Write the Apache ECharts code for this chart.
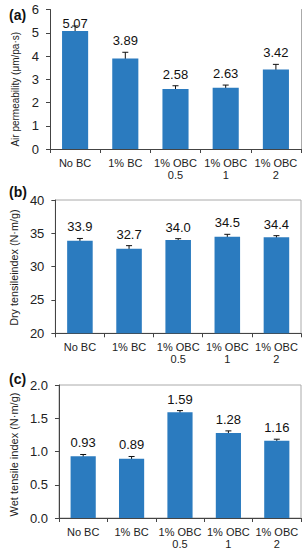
<!DOCTYPE html>
<html><head><meta charset="utf-8">
<script src="https://cdn.jsdelivr.net/npm/echarts@6/dist/echarts.min.js"></script>
<style>html,body{margin:0;padding:0;background:#fff}#c{width:306px;height:550px}</style>
</head><body><div id="c"></div>
<script>
const categories = ['No BC', '1% BC', '1% OBC\n0.5', '1% OBC\n1', '1% OBC\n2'];
const airPerm = [5.07, 3.89, 2.58, 2.63, 3.42];
const airPermErr = [0.22, 0.27, 0.14, 0.12, 0.22];
const dryTensile = [33.9, 32.7, 34.0, 34.5, 34.4];
const dryTensileErr = [0.33, 0.45, 0.2, 0.35, 0.25];
const wetTensile = [0.93, 0.89, 1.59, 1.28, 1.16];
const wetTensileErr = [0.025, 0.035, 0.025, 0.03, 0.025];
const panelLabels = ['(a)', '(b)', '(c)'];
const yTitles = ['Air permeability (μm/pa·s)', 'Dry tensileindex (N·m/g)', 'Wet tensile index (N·m/g)'];

const FONT = 'Liberation Sans, Arial, sans-serif';
const BAR = '#2b7bbf';
const panels = [
  {vals: airPerm, errs: airPermErr, min: 0, max: 6, interval: 1, dec: 2, tickDec: 0, top: 9.5, height: 139.5, show: false, nameSize: 10, namePad: [0, 20, 0, 0]},
  {vals: dryTensile, errs: dryTensileErr, min: 20, max: 40, interval: 5, dec: 1, tickDec: 0, top: 200, height: 133.3, show: true, nameSize: 10.8, namePad: [0, 2, 0, 0]},
  {vals: wetTensile, errs: wetTensileErr, min: 0, max: 2, interval: 0.5, dec: 2, tickDec: 1, top: 385, height: 133.3, show: true, nameSize: 11, namePad: [0, 6, 0, 0]}
];

const grid = [], xAxis = [], yAxis = [], series = [], title = [];
const labelTops = [3, 180, 367];
panels.forEach((p, k) => {
  grid.push({left: 50, width: 251, top: p.top, height: p.height, show: p.show, borderColor: '#aaa', borderWidth: 1});
  title.push({text: panelLabels[k], left: 4, top: labelTops[k], textStyle: {fontFamily: FONT, fontSize: 14, fontWeight: 'bold', color: '#111'}});
  xAxis.push({type: 'category', gridIndex: k, data: categories,
    axisLine: {lineStyle: {color: '#444'}},
    axisTick: {show: true, length: 4, lineStyle: {color: '#444'}},
    axisLabel: {interval: 0, color: '#222', fontFamily: FONT, fontSize: 11, lineHeight: 12, margin: 8}
  });
  yAxis.push({type: 'value', gridIndex: k, min: p.min, max: p.max, interval: p.interval,
    name: yTitles[k], nameLocation: 'middle', nameGap: 30,
    nameTextStyle: {fontFamily: FONT, fontSize: p.nameSize, color: '#222', padding: p.namePad},
    axisLine: {show: true, lineStyle: {color: '#444'}},
    axisTick: {show: true, length: 4, lineStyle: {color: '#444'}},
    splitLine: {show: false},
    axisLabel: {color: '#222', fontFamily: FONT, fontSize: 13, margin: 11,
      formatter: v => v.toFixed(p.tickDec)}
  });
  if (!p.show) {
    yAxis.push({type: 'value', gridIndex: k, position: 'right', min: p.min, max: p.max, interval: p.interval,
      axisLine: {show: true, lineStyle: {color: '#aaa'}}, axisTick: {show: false}, axisLabel: {show: false}, splitLine: {show: false}});
  }
  const yIdx = yAxis.length - (p.show ? 1 : 2);
  series.push({type: 'bar', xAxisIndex: k, yAxisIndex: yIdx, data: p.vals, barWidth: '52%',
    itemStyle: {color: BAR}, silent: true});
  series.push({type: 'custom', xAxisIndex: k, yAxisIndex: yIdx,
    data: p.vals.map((v, i) => [i, v, p.errs[i]]),
    renderItem: function (params, api) {
      const i = api.value(0), v = api.value(1), e = api.value(2);
      const hi = api.coord([i, v + e]), lo = api.coord([i, v - e]);
      const cap = 3;
      const cs = params.coordSys;
      let ly = hi[1] - 5;
      const minBottom = cs.y + 20;
      if (ly < minBottom) ly = minBottom;
      const st = {stroke: '#111', lineWidth: 1};
      return {type: 'group', children: [
        {type: 'line', shape: {x1: hi[0], y1: hi[1], x2: lo[0], y2: lo[1]}, style: st},
        {type: 'line', shape: {x1: hi[0] - cap, y1: hi[1], x2: hi[0] + cap, y2: hi[1]}, style: st},
        {type: 'line', shape: {x1: lo[0] - cap, y1: lo[1], x2: lo[0] + cap, y2: lo[1]}, style: st},
        {type: 'text', x: hi[0], y: ly, style: {text: v.toFixed(p.dec), fill: '#111', font: '13px ' + FONT, textAlign: 'center', textVerticalAlign: 'bottom'}}
      ]};
    }
  });
});

const chart = echarts.init(document.getElementById('c'), null, {renderer: 'svg'});
chart.setOption({animation: false, title, grid, xAxis, yAxis, series});
</script></body></html>
